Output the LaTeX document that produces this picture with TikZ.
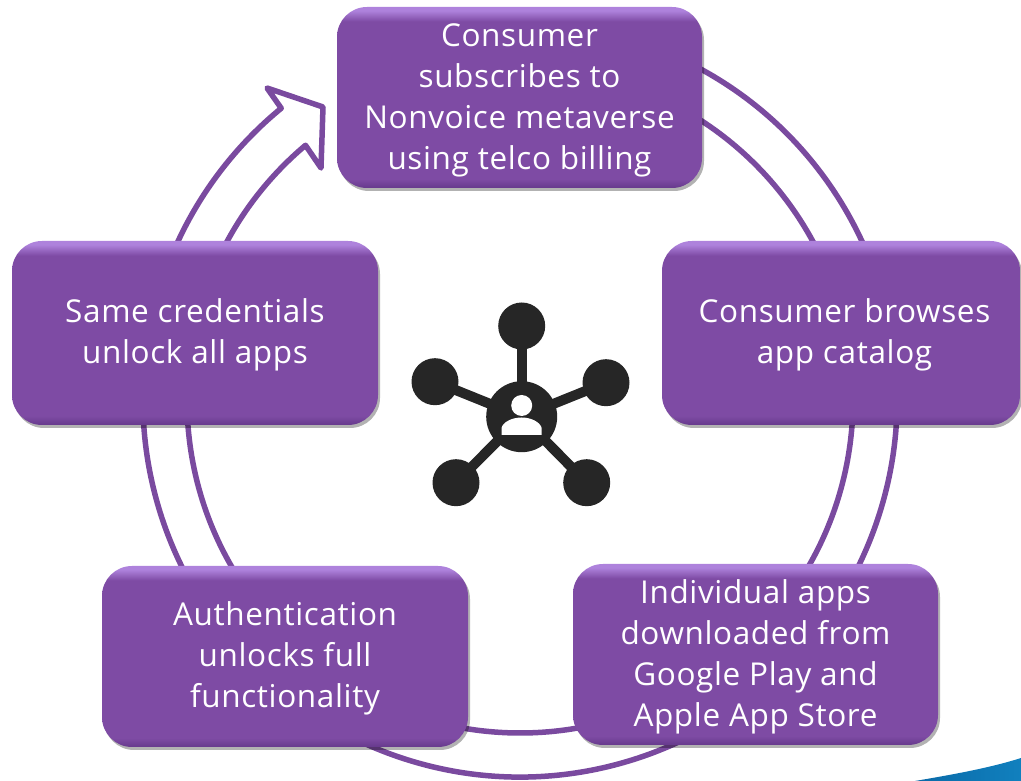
\documentclass[tikz,border=0pt]{standalone}
\usepackage{fontspec}
\setmainfont{Open Sans}[LetterSpace=2]
\usetikzlibrary{shadows,fadings,calc}
\definecolor{ringc}{HTML}{7A4A9F}
\definecolor{boxc}{HTML}{7E4BA4}
\definecolor{boxl}{HTML}{AE82DC}
\definecolor{boxd}{HTML}{66398C}
\definecolor{icon}{HTML}{262626}
\definecolor{swoosha}{HTML}{0A6AA8}
\definecolor{swooshb}{HTML}{1180BE}
\pgfdeclareverticalshading{boxshade}{100bp}{
 color(0bp)=(boxd); color(25bp)=(boxd); color(27.5bp)=(boxc); color(71bp)=(boxc); color(74bp)=(boxl); color(75bp)=(boxl); color(100bp)=(boxl)}
\newcommand{\lowertext}[1]{\raisebox{-2pt}[\height][\depth]{\begin{tabular}{@{}c@{}}#1\end{tabular}}}
\tikzset{
 x=1pt,y=1pt,
 stepbox/.style={rounded corners=30pt,shading=boxshade,minimum width=366pt,minimum height=182pt,
  align=center,text=white,inner sep=0pt,font=\fontsize{31.5}{41}\selectfont,
  drop shadow={shadow xshift=2pt,shadow yshift=-3pt,fill=black,opacity=.3}},
 ringline/.style={draw=ringc,line width=5.5pt,line join=round,line cap=round},
 hub/.style={circle,fill=icon,inner sep=0pt,minimum size=47pt},
 spoke/.style={draw=icon,line width=10pt},
 personpart/.style={fill=white}
}
\begin{document}
\begin{tikzpicture}
\useasboundingbox (0,0) rectangle (1021,781);
% swoosh
\shade[left color=swoosha,right color=swooshb] (915,0) .. controls (950,6) and (990,13) .. (1021,23) -- (1021,0) -- cycle;
% ring with arrowhead
\coordinate (ctr) at (520,381);
\coordinate (barb) at (267,693);
\coordinate (tip) at (323,674);
\coordinate (lower) at (321,613);
\path[ringline] ($(ctr)+(70:377)$) arc[start angle=70,end angle=-230.7,radius=377]
 -- (barb) -- (tip) -- (lower) -- ($(ctr)+(130.1:333)$) arc[start angle=-229.9,end angle=70,radius=333];
% boxes
\node[stepbox,minimum width=365pt,minimum height=181pt] (top) at (519.5,683.5) {\lowertext{Consumer\\subscribes to\\Nonvoice metaverse\\using telco billing}};
\node[stepbox,minimum width=358pt,minimum height=184pt] (right) at (841,448) {\lowertext{\hspace*{7pt}Consumer browses\\\hspace*{7pt}app catalog}};
\node[stepbox,minimum height=184pt] (left) at (195,448) {\lowertext{Same credentials\\unlock all apps}};
\node[stepbox,minimum height=181pt] (bl) at (285,124.5) {\lowertext{Authentication\\unlocks full\\functionality}};
\node[stepbox,minimum width=365pt,minimum height=181pt] (br) at (755.5,126.5) {\lowertext{Individual apps\\downloaded from\\Google Play and\\Apple App Store}};
% icon
\node[hub,minimum size=71pt] (centre) at (521.7,364.3) {};
\node[hub] (n1) at (521.7,455) {};
\node[hub] (n2) at (435,399.3) {};
\node[hub] (n3) at (606,398.3) {};
\node[hub] (n4) at (456,298.3) {};
\node[hub] (n5) at (586.7,298.3) {};
\foreach \n in {n1,n2,n3,n4,n5} \draw[spoke] (centre.center) -- (\n.center);
\node[circle,fill=white,inner sep=0pt,minimum size=21pt] (head) at (521.7,375.5) {};
\fill[personpart] (501.5,346) -- (501.5,353) .. controls (503,359) and (512,363.5) .. (521.7,363.5)
 .. controls (531,363.5) and (540,359) .. (541.7,353) -- (541.7,346) -- cycle;
\end{tikzpicture}
\end{document}
